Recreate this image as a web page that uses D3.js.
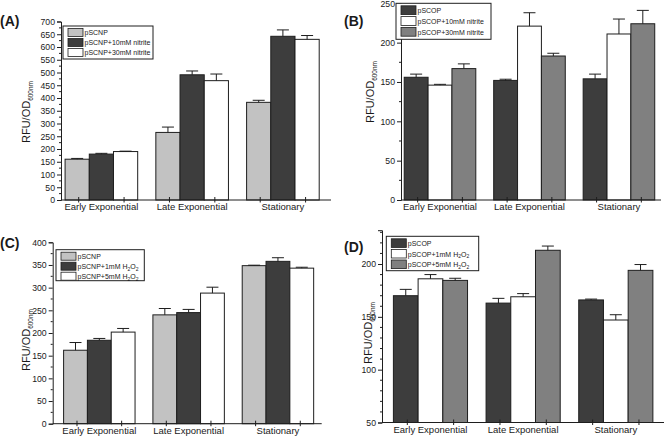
<!DOCTYPE html>
<html>
<head>
<meta charset="utf-8">
<script src="https://cdn.jsdelivr.net/npm/d3@7/dist/d3.min.js"></script>
<style>
  html, body { margin: 0; padding: 0; background: #fff; }
  svg { display: block; }
  text { font-family: "Liberation Sans", Arial, Helvetica, sans-serif; fill: #1a1a1a; }
</style>
</head>
<body>
<svg id="chart" width="664" height="436"></svg>
<script>
// ---------------- DATA ----------------
const categories = ["Early Exponential", "Late Exponential", "Stationary"];

const seriesA = ["pSCNP", "pSCNP+10mM nitrite", "pSCNP+30mM nitrite"];
const valuesA = [[160, 265, 383], [180, 491, 642], [190, 468, 630]];
const errorsA = [[3, 21, 8], [3, 15, 25], [1.5, 26, 15]];
const yTicksA = [0, 50, 100, 150, 200, 250, 300, 350, 400, 450, 500, 550, 600, 650, 700];

const seriesB = ["pSCOP", "pSCOP+10mM nitrite", "pSCOP+30mM nitrite"];
const valuesB = [[156, 152, 154], [146, 221, 211], [167, 183, 224]];
const errorsB = [[4, 1.5, 6], [1, 17, 19], [6, 3.5, 17]];
const yTicksB = [0, 50, 100, 150, 200, 250];

const seriesC = ["pSCNP", "pSCNP+1mM H2O2", "pSCNP+5mM H2O2"];
const valuesC = [[162, 240, 348.5], [184, 245, 358], [202, 288, 343]];
const errorsC = [[17, 14, 1], [4, 7, 8], [8, 13, 2]];
const yTicksC = [0, 50, 100, 150, 200, 250, 300, 350, 400];

const seriesD = ["pSCOP", "pSCOP+1mM H2O2", "pSCOP+5mM H2O2"];
const valuesD = [[170, 163, 166], [186, 169, 147], [184.5, 213, 194]];
const errorsD = [[6, 4.5, 0.8], [4, 3, 5], [2, 4, 5.5]];
const yTicksD = [50, 100, 150, 200];

const panelLabels = ["(A)", "(B)", "(C)", "(D)"];

// ---------------- STYLE / LAYOUT ----------------
const LIGHT = "#c2c2c2", DARK = "#3d3d3d", MID = "#808080", WHITE = "#ffffff";

const panels = [
  { label: panelLabels[0], series: seriesA, values: valuesA, errors: errorsA, ticks: yTicksA,
    fills: [LIGHT, DARK, WHITE], yDomain: [0, 700], minorStep: 25,
    x0: 61, x1: 331, yBase: 200, yTop: 21.5, xDomain: [0.555, 3.53],
    lab: [0, 26], ylab: [30, 112],
    legend: { x: 63, y: 26, w: 90, h: 33, row: 10 } },
  { label: panelLabels[1], series: seriesB, values: valuesB, errors: errorsB, ticks: yTicksB,
    fills: [DARK, WHITE, MID], yDomain: [0, 250], minorStep: 25,
    x0: 401, x1: 661, yBase: 200, yTop: 3.3, xDomain: [0.564, 3.47],
    lab: [344, 26], ylab: [374, 92],
    legend: { x: 396, y: 3.3, w: 95, h: 36, row: 10.8 } },
  { label: panelLabels[2], series: seriesC, values: valuesC, errors: errorsC, ticks: yTicksC,
    fills: [LIGHT, DARK, WHITE], yDomain: [0, 400], minorStep: 25,
    x0: 52.7, x1: 321.7, yBase: 423.7, yTop: 242.3, xDomain: [0.478, 3.49],
    lab: [0, 248], ylab: [30, 340],
    legend: { x: 56, y: 249.7, w: 88.3, h: 31, row: 10 } },
  { label: panelLabels[3], series: seriesD, values: valuesD, errors: errorsD, ticks: yTicksD,
    fills: [DARK, WHITE, MID], yDomain: [50, 232], minorStep: 10,
    x0: 382, x1: 664, yBase: 422.5, yTop: 230.2, xDomain: [0.477, 3.52],
    lab: [344, 252], ylab: [372, 333],
    legend: { x: 386.3, y: 236.3, w: 92.4, h: 34.4, row: 10.6 } }
];

const svg = d3.select("#chart");

function addLabelWithSubscripts(sel, str) {
  const parts = str.split(/(H2O2)/);
  parts.forEach(p => {
    if (p === "H2O2") {
      sel.append("tspan").text("H");
      sel.append("tspan").attr("dy", 1.8).attr("font-size", "5px").text("2");
      sel.append("tspan").attr("dy", -1.8).text("O");
      sel.append("tspan").attr("dy", 1.8).attr("font-size", "5px").text("2");
      sel.append("tspan").attr("dy", -1.8).text("");
    } else if (p.length) {
      sel.append("tspan").text(p);
    }
  });
}

panels.forEach(p => {
  const g = svg.append("g");
  const x = d3.scaleLinear().domain(p.xDomain).range([p.x0, p.x1]);
  const y = d3.scaleLinear().domain(p.yDomain).range([p.yBase, p.yTop]);
  const groupW = 0.8, bw = groupW / 3;

  // bars
  p.values.forEach((vals, si) => {
    vals.forEach((v, ci) => {
      const cx = ci + 1;
      const left = cx - groupW / 2 + si * bw;
      g.append("rect")
        .attr("x", x(left))
        .attr("y", y(v))
        .attr("width", x(left + bw) - x(left))
        .attr("height", y(p.yDomain[0]) - y(v))
        .attr("fill", p.fills[si])
        .attr("stroke", "#1e1e1e")
        .attr("stroke-width", 1);
      const e = p.errors[si][ci];
      const mx = x(left + bw / 2);
      g.append("line").attr("x1", mx).attr("x2", mx)
        .attr("y1", y(v)).attr("y2", y(v + e))
        .attr("stroke", "#1e1e1e").attr("stroke-width", 1);
      g.append("line").attr("x1", mx - 6).attr("x2", mx + 6)
        .attr("y1", y(v + e)).attr("y2", y(v + e))
        .attr("stroke", "#1e1e1e").attr("stroke-width", 1);
    });
  });

  // y axis
  const yAxis = d3.axisLeft(y).tickValues(p.ticks).tickSize(4).tickPadding(2)
    .tickFormat(d3.format("d"));
  const ya = g.append("g").attr("transform", `translate(${p.x0},0)`).call(yAxis);
  ya.select(".domain").attr("stroke", "#1e1e1e");
  ya.selectAll(".tick line").attr("stroke", "#1e1e1e");
  ya.selectAll(".tick text").attr("font-size", "8.7px").attr("font-family", "Liberation Sans, Arial, sans-serif").attr("fill", "#1a1a1a");
  const minor = d3.range(p.yDomain[0], p.yDomain[1] + 0.001, p.minorStep).filter(v => !p.ticks.includes(v));
  g.append("g").selectAll("line").data(minor).join("line")
    .attr("x1", p.x0 - 2).attr("x2", p.x0)
    .attr("y1", d => y(d)).attr("y2", d => y(d))
    .attr("stroke", "#1e1e1e");

  // x axis
  g.append("line").attr("x1", p.x0).attr("x2", p.x1)
    .attr("y1", p.yBase).attr("y2", p.yBase)
    .attr("stroke", "#1e1e1e").attr("stroke-width", 1);
  const xt = [];
  categories.forEach((c, i) => { xt.push(i + 1 - 0.25, i + 1 + 0.25); });
  g.append("g").selectAll("line").data(xt).join("line")
    .attr("x1", d => x(d)).attr("x2", d => x(d))
    .attr("y1", p.yBase - 3).attr("y2", p.yBase + 2.5)
    .attr("stroke", "#1e1e1e");
  g.append("g").selectAll("text").data(categories).join("text")
    .attr("x", (d, i) => x(i + 1))
    .attr("y", p.yBase + 10)
    .attr("text-anchor", "middle")
    .attr("font-size", "9.5px")
    .text(d => d);

  // y label
  const yl = g.append("text")
    .attr("transform", `translate(${p.ylab[0]},${p.ylab[1]}) rotate(-90)`)
    .attr("text-anchor", "middle")
    .attr("font-size", "11px");
  yl.append("tspan").text("RFU/OD");
  yl.append("tspan").attr("dy", 2.5).attr("font-size", "6.5px").text("600nm");

  // panel label
  g.append("text").attr("x", p.lab[0]).attr("y", p.lab[1])
    .attr("font-family", "Liberation Serif, Times New Roman, serif")
    .attr("font-weight", "bold").attr("font-size", "14px")
    .attr("fill", "#111")
    .text(p.label);

  // legend
  const L = p.legend;
  const lg = g.append("g");
  lg.append("rect").attr("x", L.x).attr("y", L.y).attr("width", L.w).attr("height", L.h)
    .attr("fill", "#fff").attr("stroke", "#1e1e1e").attr("stroke-width", 1);
  p.series.forEach((s, i) => {
    const ry = L.y + 2.5 + i * L.row;
    lg.append("rect").attr("x", L.x + 5).attr("y", ry).attr("width", 15).attr("height", L.row - 2)
      .attr("fill", p.fills[i]).attr("stroke", "#1e1e1e").attr("stroke-width", 0.8);
    const t = lg.append("text").attr("x", L.x + 21.5).attr("y", ry + L.row - 3.5)
      .attr("font-size", "7px");
    addLabelWithSubscripts(t, s);
  });
});
</script>
</body>
</html>
